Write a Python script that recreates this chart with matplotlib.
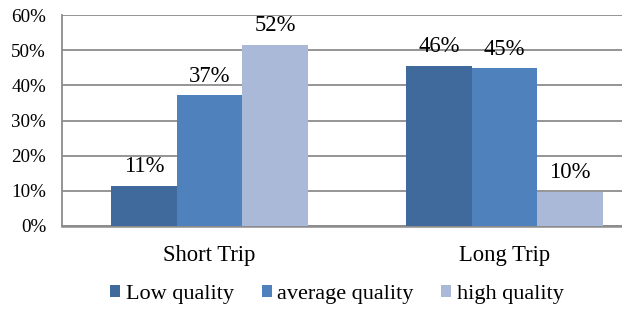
import matplotlib
matplotlib.use("Agg")
import matplotlib.pyplot as plt
import numpy as np

categories = ["Short Trip", "Long Trip"]
series_names = ["Low quality", "average quality", "high quality"]
low_quality = [0.114, 0.456]
average_quality = [0.372, 0.448]
high_quality = [0.516, 0.097]
y_ticks = [0, 0.1, 0.2, 0.3, 0.4, 0.5, 0.6]

colors = ["#3F6A9B", "#4F81BD", "#AAB9D7"]

plt.rcParams['font.family'] = ['Liberation Serif', 'DejaVu Serif']

fig = plt.figure(figsize=(6.22, 3.09), dpi=100)
W, H = 622, 309
ax = fig.add_axes([62 / W, 1 - 226 / H, 590 / W, 211 / H])

x = np.arange(len(categories))
bw = 0.222
series = [low_quality, average_quality, high_quality]
for i, (vals, name, c) in enumerate(zip(series, series_names, colors)):
    pos = x + (i - 1) * bw
    bars = ax.bar(pos, vals, bw, color=c, label=name, zorder=3, linewidth=0)
    for b, v in zip(bars, vals):
        ax.text(b.get_x() + b.get_width() / 2, v + 0.024, f"{v:.0%}",
                ha="center", va="bottom", fontsize=16.3, zorder=4)

ax.set_xlim(-0.5, 1.5)
ax.set_ylim(0, 0.6)
ax.set_yticks(y_ticks)
ax.set_yticklabels([f"{t:.0%}" for t in y_ticks], fontsize=13.7)
ax.set_xticks(x)
ax.set_xticklabels(categories, fontsize=16.3)
ax.tick_params(axis="both", length=0)
ax.tick_params(axis="x", pad=14)
ax.tick_params(axis="y", pad=11.5)
ax.yaxis.grid(True, color="#8C8C8C", linewidth=1.3, zorder=0)
for s in ["top", "right"]:
    ax.spines[s].set_visible(False)
ax.spines["left"].set_color("#8C8C8C")
ax.spines["left"].set_linewidth(1.3)
ax.spines["bottom"].set_color("#8C8C8C")
ax.spines["bottom"].set_linewidth(1.8)

fig.legend(loc="center", bbox_to_anchor=(337 / W, 1 - 294 / H), ncol=3,
           frameon=False, fontsize=16, handlelength=0.45, handleheight=0.45,
           handletextpad=0.25, columnspacing=1.25, borderpad=0)

fig.savefig("out.png", dpi=100)
